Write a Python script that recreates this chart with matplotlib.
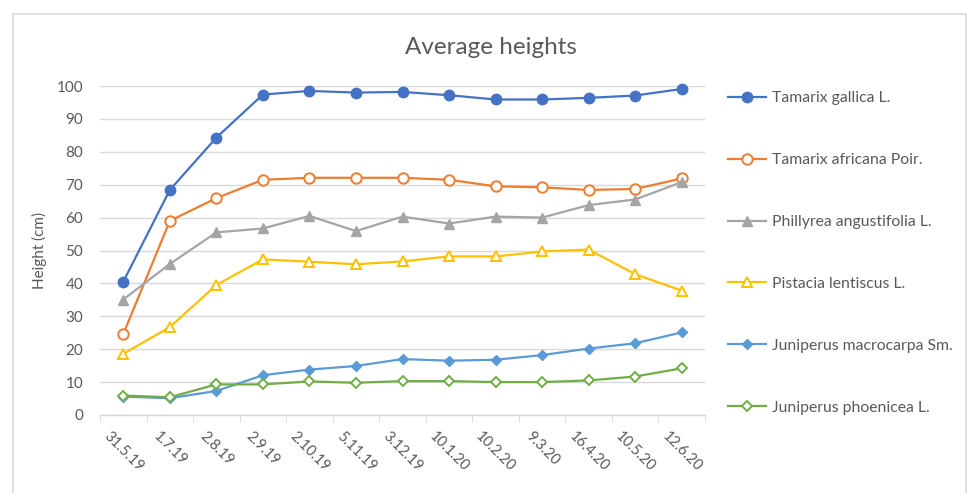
import matplotlib
matplotlib.use("Agg")
import matplotlib.pyplot as plt
from matplotlib.patches import Rectangle
import numpy as np

plt.rcParams['font.family'] = ['Lato', 'DejaVu Sans']

# data
dates = ['31.5.19', '1.7.19', '2.8.19', '2.9.19', '2.10.19', '5.11.19', '3.12.19',
         '10.1.20', '10.2.20', '9.3.20', '16.4.20', '10.5.20', '12.6.20']
tamarix_gallica = [40.5, 68.4, 84.3, 97.4, 98.5, 98.0, 98.2, 97.2, 95.9, 95.9, 96.4, 97.1, 99.1]
tamarix_africana = [24.6, 59.0, 65.9, 71.5, 72.1, 72.1, 72.1, 71.5, 69.5, 69.2, 68.4, 68.7, 71.9]
phillyrea = [35.1, 45.9, 55.5, 56.7, 60.5, 55.9, 60.3, 58.2, 60.3, 60.0, 63.8, 65.5, 70.8]
pistacia = [18.6, 26.7, 39.5, 47.3, 46.6, 45.8, 46.7, 48.2, 48.2, 49.7, 50.3, 42.8, 37.8]
juniperus_macro = [5.6, 5.1, 7.3, 12.1, 13.8, 14.9, 17.0, 16.5, 16.8, 18.2, 20.2, 21.8, 25.1]
juniperus_phoen = [5.9, 5.4, 9.3, 9.3, 10.2, 9.8, 10.3, 10.3, 10.0, 10.0, 10.5, 11.7, 14.2]

series = [
    ('Tamarix gallica L.', tamarix_gallica, '#4472C4', 'o', True),
    ('Tamarix africana Poir.', tamarix_africana, '#ED7D31', 'o', False),
    ('Phillyrea angustifolia L.', phillyrea, '#A5A5A5', '^', True),
    ('Pistacia lentiscus L.', pistacia, '#FFC000', '^', False),
    ('Juniperus macrocarpa Sm.', juniperus_macro, '#5B9BD5', 'D', True),
    ('Juniperus phoenicea L.', juniperus_phoen, '#70AD47', 'D', False),
]

text_color = '#595959'
grid_color = '#D9D9D9'

fig = plt.figure(figsize=(9.68, 4.93), dpi=100)
fig.patches.append(Rectangle((13 / 968, -0.05), (953 / 968), 1 - 14 / 493 + 0.05,
                             transform=fig.transFigure, fill=False,
                             edgecolor=grid_color, linewidth=1.2))

ax = fig.add_axes([100 / 968, 1 - 415 / 493, 605 / 968, (415 - 86) / 493])
x = np.arange(len(dates))

for name, vals, color, marker, filled in series:
    ms = 5.5 if marker == 'D' else 7.5
    ax.plot(x, vals, color=color, lw=1.6, marker=marker, markersize=ms,
            markerfacecolor=color if filled else 'white',
            markeredgecolor=color, markeredgewidth=1.4 if not filled else 1.0,
            label=name, clip_on=False, zorder=3)

ax.set_xlim(-0.5, len(dates) - 0.5)
ax.set_ylim(0, 100)
ax.set_yticks(np.arange(0, 101, 10))
ax.grid(axis='y', color=grid_color, linewidth=1.0)
ax.set_axisbelow(True)

for side in ['top', 'right', 'left']:
    ax.spines[side].set_visible(False)
ax.spines['bottom'].set_color(grid_color)
ax.spines['bottom'].set_linewidth(1.0)

ax.set_xticks(x)
ax.set_xticklabels(dates, rotation=-45, ha='center', va='top')
ax.set_xticks(np.arange(-0.5, len(dates), 1), minor=True)
ax.tick_params(axis='x', which='major', length=0, pad=10, labelsize=10.5, labelcolor=text_color)
ax.tick_params(axis='x', which='minor', length=5, color=grid_color, direction='out')
ax.tick_params(axis='y', length=0, pad=12, labelsize=11, labelcolor=text_color)

ax.set_ylabel('Height (cm)', fontsize=11, color=text_color, labelpad=7)
fig.text(491 / 968, 1 - 47 / 493, 'Average heights', ha='center', va='center',
         fontsize=17.5, color=text_color)

leg = ax.legend(loc='upper left', bbox_to_anchor=(722 / 968, 1 - 85 / 493),
                bbox_transform=fig.transFigure, frameon=False, fontsize=11.3,
                labelcolor=text_color, handlelength=2.4, handletextpad=0.4,
                labelspacing=3.05, borderaxespad=0)

fig.savefig('out.png', dpi=100)
